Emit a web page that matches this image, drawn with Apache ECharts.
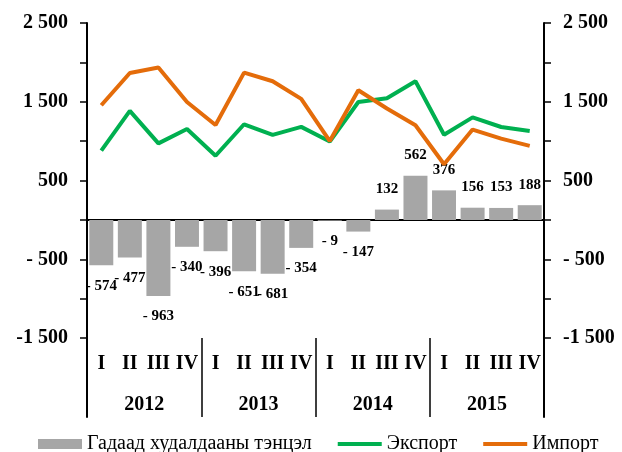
<!DOCTYPE html>
<html>
<head>
<meta charset="utf-8">
<script src="https://cdn.jsdelivr.net/npm/echarts@6/dist/echarts.min.js"></script>
<style>
  html, body { margin: 0; padding: 0; background: #fff; }
  #chart { width: 622px; height: 452px; }
</style>
</head>
<body>
<div id="chart"></div>
<script>
  // quarters and years
  const quarters = ['I', 'II', 'III', 'IV', 'I', 'II', 'III', 'IV', 'I', 'II', 'III', 'IV', 'I', 'II', 'III', 'IV'];
  const years = ['2012', '2013', '2014', '2015'];

  // series values
  const balance = [-574, -477, -963, -340, -396, -651, -681, -354, -9, -147, 132, 562, 376, 156, 153, 188];
  const exportVals = [880, 1385, 972, 1155, 815, 1215, 1080, 1182, 995, 1497, 1545, 1760, 1082, 1302, 1180, 1130];
  const importVals = [1456, 1865, 1935, 1497, 1205, 1870, 1761, 1537, 1002, 1647, 1415, 1203, 708, 1148, 1032, 940];

  // value axis ticks
  const yTicks = [-1500, -1000, -500, 0, 500, 1000, 1500, 2000, 2500];
  const yLabelValues = [-1500, -500, 500, 1500, 2500];
  const yLabelTexts = ['-1 500', '- 500', '500', '1 500', '2 500'];

  const serif = '"Liberation Serif", "Times New Roman", serif';
  // thick line for the legend (moveTo points keep the 44x10 box)
  const lineIcon = 'path://M0,0 M0,3 L44,3 L44,7 L0,7 Z M44,10';

  function yLabel(v) {
    const i = yLabelValues.indexOf(v);
    return i >= 0 ? yLabelTexts[i] : '';
  }

  function balanceLabel(v) {
    return v < 0 ? '- ' + Math.abs(v) : String(v);
  }

  const chart = echarts.init(document.getElementById('chart'));

  const boldLabel = {
    color: '#000',
    fontFamily: serif,
    fontWeight: 'bold',
    fontSize: 20
  };

  const yAxisBase = {
    type: 'value',
    min: -2500,
    max: 2500,
    interval: 500,
    splitLine: { show: false },
    axisLine: { show: true, lineStyle: { color: '#000', width: 2 } },
    axisTick: { show: true, length: 7, customValues: yTicks, lineStyle: { color: '#000', width: 1.5 } },
    axisLabel: Object.assign({
      customValues: yLabelValues,
      formatter: yLabel,
      margin: 19
    }, boldLabel)
  };

  chart.setOption({
    animation: false,
    grid: { left: 87, right: 78, top: 23, bottom: 35, containLabel: false, outerBoundsMode: 'none' },
    legend: {
      top: 429,
      left: 33,
      itemWidth: 44,
      itemHeight: 10,
      itemGap: 26,
      textStyle: { color: '#000', fontFamily: serif, fontSize: 20 },
      data: [
        { name: 'Гадаад худалдааны тэнцэл', icon: 'rect' },
        { name: 'Экспорт', icon: lineIcon },
        { name: 'Импорт', icon: lineIcon }
      ]
    },
    xAxis: [{
      // zero line for the bars
      type: 'category',
      data: quarters,
      axisLine: { onZero: true, lineStyle: { color: '#000', width: 2 } },
      axisTick: { show: false },
      axisLabel: { show: false }
    }, {
      // quarter labels
      type: 'category',
      data: quarters,
      position: 'bottom',
      offset: -72,
      axisLine: { show: false, onZero: false },
      axisTick: { show: false },
      axisLabel: Object.assign({ interval: 0, margin: 9 }, boldLabel)
    }, {
      // year labels and separators
      type: 'category',
      data: years,
      position: 'bottom',
      axisLine: { show: false, onZero: false },
      axisTick: { show: true, inside: true, length: 79, lineStyle: { color: '#000', width: 1.5 } },
      axisLabel: Object.assign({ inside: true, margin: 2 }, boldLabel)
    }],
    yAxis: [
      Object.assign({}, yAxisBase, { position: 'left' }),
      Object.assign({}, yAxisBase, { position: 'right' })
    ],
    series: [{
      name: 'Гадаад худалдааны тэнцэл',
      type: 'bar',
      barCategoryGap: '16%',
      itemStyle: { color: '#A6A6A6' },
      data: balance.map(v => ({
        value: v,
        label: { position: v < 0 ? 'bottom' : 'top' }
      })),
      label: {
        show: true,
        distance: 13,
        formatter: p => balanceLabel(p.value),
        color: '#000',
        fontFamily: serif,
        fontWeight: 'bold',
        fontSize: 15
      }
    }, {
      name: 'Экспорт',
      type: 'line',
      data: exportVals,
      symbol: 'none',
      lineStyle: { color: '#00B050', width: 4 },
      itemStyle: { color: '#00B050' }
    }, {
      name: 'Импорт',
      type: 'line',
      data: importVals,
      symbol: 'none',
      lineStyle: { color: '#E46C0A', width: 4 },
      itemStyle: { color: '#E46C0A' }
    }]
  });
</script>
</body>
</html>
